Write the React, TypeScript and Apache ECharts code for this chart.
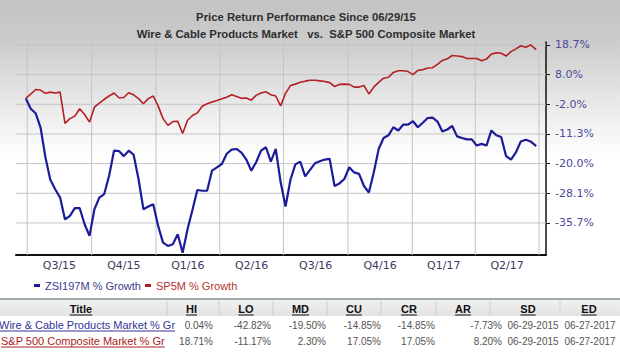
import React, { useEffect, useRef } from 'react';
import * as echarts from 'echarts';

// ---------- data ----------
const quarterLabels = ['Q3/15', 'Q4/15', 'Q1/16', 'Q2/16', 'Q3/16', 'Q4/16', 'Q1/17', 'Q2/17'];
const quarterStarts = [
  [2015, 6], [2015, 9], [2016, 0], [2016, 3], [2016, 6], [2016, 9], [2017, 0], [2017, 3], [2017, 6],
];
const yTickValues = [-35.7, -28.1, -20.0, -11.3, -2.0, 8.0, 18.7];
const yTickLabels = ['-35.7%', '-28.1%', '-20.0%', '-11.3%', '-2.0%', '8.0%', '18.7%'];

const seriesNames = ['ZSI197M % Growth', 'SP5M % Growth'];
const startDate = [2015, 5, 29];
const endDate = [2017, 5, 27];

// weekly readings, % growth since 06/29/15
const zsiGrowth = [
  0.0, -3.4, -4.8, -9.2, -18.1, -24.4, -27.0, -29.2, -34.8, -33.9,
  -31.9, -31.9, -36.0, -38.8, -32.2, -29.2, -28.3, -23.3, -16.2, -16.3,
  -17.8, -16.2, -17.4, -24.2, -32.2, -31.5, -30.9, -36.4, -40.4, -41.2,
  -40.8, -38.4, -42.82, -37.2, -32.4, -27.2, -27.4, -27.4, -21.9, -21.0,
  -20.1, -17.1, -15.9, -15.7, -16.8, -18.8, -21.9, -19.6, -16.2, -15.2,
  -19.4, -15.7, -25.1, -31.5, -24.4, -20.2, -19.4, -23.5, -21.7, -19.9,
  -19.3, -18.8, -18.6, -26.1, -25.4, -24.2, -21.0, -22.4, -22.8, -26.1,
  -27.9, -22.4, -15.7, -12.5, -11.7, -9.2, -10.2, -8.4, -8.4, -7.3,
  -9.2, -7.8, -6.3, -6.2, -7.4, -10.5, -9.9, -8.8, -12.0, -12.5,
  -12.9, -12.9, -14.7, -14.2, -14.7, -10.2, -11.7, -12.2, -17.8, -18.8,
  -16.7, -13.5, -13.0, -13.5, -14.85,
];
const sp5Growth = [
  0.0, 1.4, 3.0, 2.8, 1.7, 2.1, 1.8, 2.1, -8.0, -6.5,
  -5.7, -3.4, -5.2, -7.6, -2.9, -1.6, -0.3, 0.8, 1.8, 0.2,
  0.3, 1.9, 1.2, -0.1, -1.8, -0.1, 0.8, -2.5, -6.5, -8.6,
  -7.4, -7.3, -11.17, -7.0, -5.5, -4.7, -2.6, -1.8, -1.2, -0.7,
  -0.1, 0.4, 1.2, 0.6, 0.0, 0.1, -0.6, 1.0, 1.8, 2.2,
  1.2, 0.8, -2.5, 1.7, 4.3, 4.8, 5.4, 5.8, 6.1, 6.1,
  5.9, 5.7, 5.3, 4.0, 4.7, 4.8, 4.7, 3.8, 3.8, 4.3,
  1.5, 3.8, 5.4, 6.8, 7.1, 8.8, 9.4, 9.4, 9.1, 8.0,
  9.5, 9.8, 10.4, 10.5, 11.7, 13.1, 13.7, 14.9, 14.7, 14.5,
  13.8, 13.8, 13.8, 13.0, 13.6, 15.4, 15.9, 15.7, 14.7, 16.3,
  17.3, 18.4, 17.9, 18.71, 17.05,
];

const tableHeaders = ['Title', 'HI', 'LO', 'MD', 'CU', 'CR', 'AR', 'SD', 'ED'];
const zsiRow = ['Wire & Cable Products Market % Gr', '0.04%', '-42.82%', '-19.50%', '-14.85%', '-14.85%', '-7.73%', '06-29-2015', '06-27-2017'];
const spRow = ['S&P 500 Composite Market % Gr', '18.71%', '-11.17%', '2.30%', '17.05%', '17.05%', '8.20%', '06-29-2015', '06-27-2017'];

// ---------- helpers ----------
const DAY = 86400000;
const utc = (a: number[]) => Date.UTC(a[0], a[1], a[2] ?? 1);

// the chart's value scale: ticks are evenly spaced, values between them linear
function toAxis(v: number): number {
  const t = yTickValues;
  if (v <= t[0]) return (v - t[0]) / 7.1;
  if (v >= t[t.length - 1]) return t.length - 1 + (v - t[t.length - 1]) / 11.5;
  for (let i = 0; i < t.length - 1; i++) {
    if (v >= t[i] && v <= t[i + 1]) return i + (v - t[i]) / (t[i + 1] - t[i]);
  }
  return 0;
}

export default function App() {
  const ref = useRef<HTMLDivElement>(null);
  useEffect(() => {
    const el = ref.current!;
    const chart = echarts.init(el, undefined, { renderer: 'svg' });

    const start = utc(startDate);
    const dates = zsiGrowth.map((_, i) => (i === zsiGrowth.length - 1 ? utc(endDate) : start + i * 7 * DAY));
    const qTs = quarterStarts.map((q) => utc(q));
    const midTs = quarterLabels.map((_, k) => (qTs[k] + qTs[k + 1]) / 2);
    const yIdx = yTickValues.map((_, i) => i);
    const xMin = utc(quarterStarts[0]) - 16 * DAY;
    const xMax = utc(quarterStarts[8]) + 10 * DAY;
    const yMin = -1.08;
    const yMax = 6.1;

    const ctx = document.createElement('canvas').getContext('2d')!;
    const measure = (t: string, font: string) => {
      ctx.font = font;
      return ctx.measureText(t).width;
    };
    const FONT = 'Liberation Sans, Arial, sans-serif';

    // table layout
    const lineY = 298;
    const headY = 309;
    const rowYs = [325, 341];

    const graphics: any[] = [];
    graphics.push({
      type: 'rect', shape: { x: 0, y: lineY + 2, width: 620, height: 16 },
      style: { fill: new echarts.graphic.LinearGradient(0, 0, 0, 1, [
        { offset: 0, color: '#f1f1f1' }, { offset: 1, color: '#e2e2e2' }]) },
      silent: true,
    });
    graphics.push({ type: 'rect', shape: { x: 0, y: lineY, width: 620, height: 2 }, style: { fill: '#a2abab' }, silent: true });
    [167, 219, 273, 327, 381, 436, 490, 560].forEach((sx) => {
      graphics.push({ type: 'line', shape: { x1: sx, y1: lineY + 3, x2: sx, y2: lineY + 17 }, style: { stroke: '#cfcfcf', lineWidth: 1 }, silent: true });
    });

    const headerCenters = [81, 191.5, 246, 300.5, 354, 409, 463, 528, 589];
    tableHeaders.forEach((h, i) => {
      const w = measure(h, `bold 11px ${FONT}`);
      graphics.push({
        type: 'text', x: headerCenters[i], y: headY,
        style: { text: h, fontFamily: FONT, fontSize: 11, fontWeight: 'bold', fill: '#111', textAlign: 'center', textVerticalAlign: 'middle' },
        silent: true,
      });
      graphics.push({
        type: 'line', shape: { x1: headerCenters[i] - w / 2, y1: headY + 6, x2: headerCenters[i] + w / 2, y2: headY + 6 },
        style: { stroke: '#111', lineWidth: 1 }, silent: true,
      });
    });

    const valueRight = [213, 271, 326, 381, 435, 502];
    const dateCenters = [533, 590];
    const rows = [
      { cells: zsiRow, y: rowYs[0], color: '#333399', x0: -1 },
      { cells: spRow, y: rowYs[1], color: '#aa2222', x0: 1 },
    ];
    rows.forEach((r) => {
      const w = measure(r.cells[0], `11px ${FONT}`);
      graphics.push({
        type: 'text', x: r.x0, y: r.y,
        style: { text: r.cells[0], fontFamily: FONT, fontSize: 11, fill: r.color, textAlign: 'left', textVerticalAlign: 'middle' },
        silent: true,
      });
      graphics.push({
        type: 'line', shape: { x1: r.x0, y1: r.y + 6, x2: r.x0 + w, y2: r.y + 6 },
        style: { stroke: r.color, lineWidth: 1 }, silent: true,
      });
      for (let c = 1; c <= 6; c++) {
        graphics.push({
          type: 'text', x: valueRight[c - 1], y: r.y,
          style: { text: r.cells[c], fontFamily: FONT, fontSize: 10, fill: '#555', textAlign: 'right', textVerticalAlign: 'middle' },
          silent: true,
        });
      }
      for (let c = 7; c <= 8; c++) {
        graphics.push({
          type: 'text', x: dateCenters[c - 7], y: r.y,
          style: { text: r.cells[c], fontFamily: FONT, fontSize: 10, fill: '#555', textAlign: 'center', textVerticalAlign: 'middle' },
          silent: true,
        });
      }
    });

    // grid lines: one two-point series per line, drawn through the axes' scales
    const gridLineStyle = { color: '#c4c4c4', width: 1, type: 'solid' };
    const gridSeries: any[] = [
      ...qTs.map((t, k) => ({ data: [[t, yMin], [t, yMax]], name: `vgrid${k}` })),
      ...yIdx.map((i) => ({ data: [[xMin, i], [xMax, i]], name: `hgrid${i}` })),
    ].map((g) => ({
      name: g.name, type: 'line', data: g.data, showSymbol: false, symbol: 'none',
      z: 1, silent: true, clip: false, lineStyle: gridLineStyle,
      emphasis: { disabled: true }, tooltip: { show: false },
    }));

    const option: any = {
      animation: false,
      backgroundColor: 'transparent',
      title: {
        text: 'Price Return Performance Since 06/29/15\nWire & Cable Products Market   vs.  S&P 500 Composite Market',
        left: 306, top: 8, textAlign: 'center', padding: 0,
        textStyle: { fontFamily: FONT, fontSize: 11.3, fontWeight: 'bold', color: '#2e2e2e', lineHeight: 17 },
      },
      grid: { left: 16, right: 74, top: 42, bottom: 100, containLabel: false },
      legend: {
        left: 34, top: 280, padding: 0, icon: 'rect', itemWidth: 6, itemHeight: 3, itemGap: 4,
        textStyle: { fontFamily: FONT, fontSize: 11 },
        data: [
          { name: seriesNames[0], textStyle: { color: '#3b3b8f' } },
          { name: seriesNames[1], textStyle: { color: '#b8312f' } },
        ],
      },
      xAxis: {
        type: 'value', min: xMin, max: xMax,
        axisLine: { onZero: false, lineStyle: { color: '#111', width: 2 } },
        axisTick: { show: false, customValues: qTs },
        axisLabel: {
          customValues: midTs,
          formatter: (v: number) => {
            let best = 0;
            midTs.forEach((m, k) => { if (Math.abs(m - v) < Math.abs(midTs[best] - v)) best = k; });
            return quarterLabels[best];
          },
          color: '#3a3a60', fontFamily: 'DejaVu Sans', fontSize: 11, margin: 5, hideOverlap: false,
        },
        splitLine: { show: false },
      },
      yAxis: {
        type: 'value', position: 'right', min: yMin, max: yMax,
        axisLine: { show: true, onZero: false, lineStyle: { color: '#111', width: 1.5 } },
        axisTick: { show: true, length: 4, customValues: yIdx, lineStyle: { color: '#111' } },
        axisLabel: {
          customValues: yIdx,
          formatter: (v: number) => yTickLabels[Math.round(v)],
          color: '#4b4b99', fontFamily: 'DejaVu Sans', fontSize: 11, margin: 9,
        },
        splitLine: { show: false },
      },
      series: [
        ...gridSeries,
        {
          name: seriesNames[0], type: 'line', showSymbol: false, symbol: 'none', z: 3,
          data: dates.map((d, i) => [d, toAxis(zsiGrowth[i])]),
          lineStyle: { color: '#1c1c9a', width: 2.2 }, itemStyle: { color: '#1c1c9a' },
        },
        {
          name: seriesNames[1], type: 'line', showSymbol: false, symbol: 'none', z: 3,
          data: dates.map((d, i) => [d, toAxis(sp5Growth[i])]),
          lineStyle: { color: '#b31f24', width: 1.6 }, itemStyle: { color: '#b31f24' },
        },
      ],
      graphic: graphics,
    };
    chart.setOption(option);
    return () => chart.dispose();
  }, []);

  return (
    <div
      ref={ref}
      style={{
        position: 'absolute', left: 0, top: 0, width: 620, height: 355,
        background: 'linear-gradient(to bottom, #c3c3c3 0px, #cbcbcb 40px, #dedede 80px, #f2f2f2 125px, #ffffff 160px, #ffffff 355px)',
      }}
    />
  );
}
